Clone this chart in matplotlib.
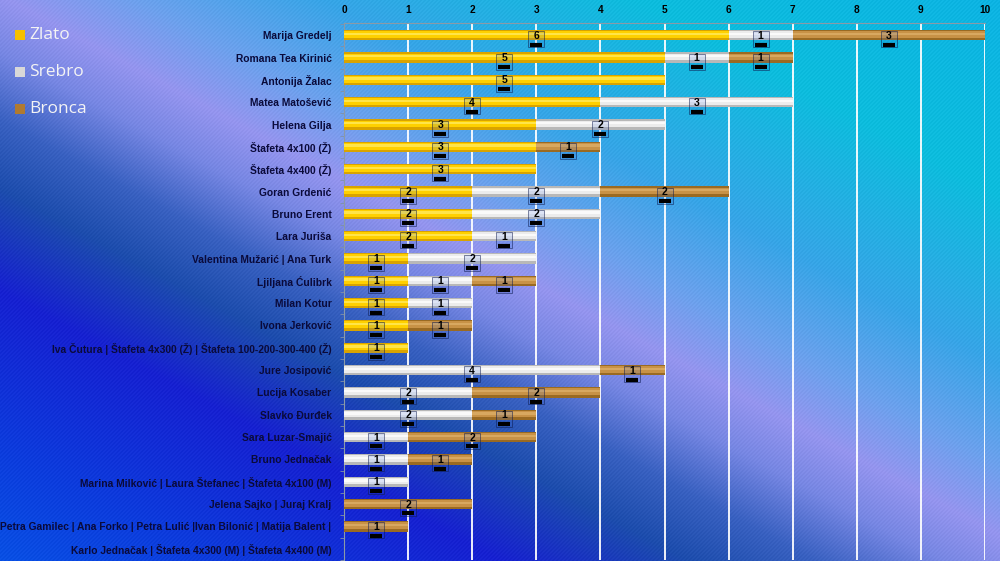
import numpy as np
import matplotlib
matplotlib.use("Agg")
import matplotlib.pyplot as plt
from matplotlib.colors import to_rgb
from matplotlib.patches import Rectangle

names = [
    "Marija Gredelj", "Romana Tea Kirinić", "Antonija Žalac", "Matea Matošević",
    "Helena Gilja", "Štafeta 4x100 (Ž)", "Štafeta 4x400 (Ž)", "Goran Grdenić",
    "Bruno Erent", "Lara Juriša", "Valentina Mužarić | Ana Turk", "Ljiljana Ćulibrk",
    "Milan Kotur", "Ivona Jerković",
    "Iva Čutura | Štafeta 4x300 (Ž) | Štafeta 100-200-300-400 (Ž)",
    "Jure Josipović", "Lucija Kosaber", "Slavko Đurđek", "Sara Luzar-Smajić",
    "Bruno Jednačak", "Marina Milković | Laura Štefanec | Štafeta 4x100 (M)",
    "Jelena Sajko | Juraj Kralj",
    "Petra Gamilec | Ana Forko | Petra Lulić |Ivan Bilonić | Matija Balent |",
    "Karlo Jednačak | Štafeta 4x300 (M) | Štafeta 4x400 (M)",
]
zlato  = [6, 5, 5, 4, 3, 3, 3, 2, 2, 2, 1, 1, 1, 1, 1, 0, 0, 0, 0, 0, 0, 0, 0, 0]
srebro = [1, 1, 0, 3, 2, 0, 0, 2, 2, 1, 2, 1, 1, 0, 0, 4, 2, 2, 1, 1, 1, 0, 0, 0]
bronca = [3, 1, 0, 0, 0, 1, 0, 2, 0, 0, 0, 1, 0, 1, 0, 1, 2, 1, 2, 1, 0, 2, 1, 0]
series = ["Zlato", "Srebro", "Bronca"]
xticks = list(range(0, 11))

W, H = 1000, 561
fig = plt.figure(figsize=(W / 100, H / 100), dpi=100)

# ---- background gradient ----
bg = fig.add_axes([0, 0, 1, 1])
bg.set_axis_off()
yy, xx = np.mgrid[0:H, 0:W].astype(float)
slope = 0.54
d = (yy - (-5 + slope * xx)) / np.sqrt(1 + slope ** 2)
stops_d = [-520, -300, -150, -60, 0, 50, 110, 170, 260, 400, 560]
stops_c = ["#10b4e8", "#10c0e0", "#3aa8ea", "#70a4f0", "#9898f2", "#7a8ae6",
           "#3c64c4", "#2050b0", "#1a24d4", "#1040e0", "#0a60ec"]
cols = np.array([to_rgb(c) for c in stops_c])
img = np.zeros((H, W, 3))
for k in range(3):
    img[..., k] = np.interp(d, stops_d, cols[:, k])
tex = ((xx + yy) % 4 < 1.5) * 0.025
img = np.clip(img - tex[..., None], 0, 1)
bg.imshow(img, extent=[0, W, H, 0], aspect="auto")
bg.set_xlim(0, W)
bg.set_ylim(H, 0)

# ---- main axes ----
ax = fig.add_axes([0.344, 0.002, 0.641, 0.957])
ax.set_facecolor("none")
n = len(names)
y = np.arange(n)

base_cols = {"Zlato": "#d9a300", "Srebro": "#b8b8b8", "Bronca": "#9a6a22"}
mid_cols = {"Zlato": "#ffd000", "Srebro": "#ececec", "Bronca": "#c89246"}
hi_cols = {"Zlato": "#ffe44a", "Srebro": "#fafafa", "Bronca": "#d8a860"}
leg_cols = {"Zlato": "#f5c000", "Srebro": "#d8d8d8", "Bronca": "#b07a30"}

left = np.zeros(n)
for s, vals in zip(series, [zlato, srebro, bronca]):
    vals = np.array(vals, dtype=float)
    ax.barh(y, vals, left=left, height=0.46, color=base_cols[s], zorder=3)
    ax.barh(y - 0.03, vals, left=left, height=0.30, color=mid_cols[s], zorder=3)
    ax.barh(y - 0.06, vals, left=left, height=0.10, color=hi_cols[s], zorder=3)
    for i in range(n):
        if vals[i] > 0:
            cx = left[i] + vals[i] / 2
            ax.plot([cx], [y[i] + 0.18], marker="s", markersize=11.5,
                    markerfacecolor=(0.2, 0.4, 0.85, 0.15),
                    markeredgecolor=(0.05, 0.1, 0.3, 0.6),
                    markeredgewidth=0.6, zorder=4)
            ax.plot([cx], [y[i] + 0.42], marker="_", markersize=9,
                    markeredgewidth=3.0, color="black", zorder=5)
            ax.text(cx, y[i] + 0.02, f"{int(vals[i])}", ha="center", va="center",
                    fontsize=7.5, fontweight="bold", color="black",
                    family="Liberation Sans", zorder=6)
    left += vals

ax.set_xlim(0, 10)
ax.set_ylim(n - 0.5, -0.55)
ax.set_xticks(xticks)
ax.xaxis.tick_top()
ax.tick_params(axis="x", length=0, pad=6, labelsize=7.3, labelcolor="black")
for lab in ax.get_xticklabels():
    lab.set_fontweight("bold")
    lab.set_family("Liberation Sans")
ax.set_yticks(y)
ax.set_yticklabels(names)
ax.tick_params(axis="y", length=0, pad=9, labelsize=7.4, labelcolor="#0a0a3a")
for lab in ax.get_yticklabels():
    lab.set_fontweight("bold")
    lab.set_family("Liberation Sans")
ax.set_yticks(np.arange(n + 1) - 0.5, minor=True)
ax.tick_params(axis="y", which="minor", length=3, color="#8090a8", direction="out")
ax.grid(axis="x", color="white", linewidth=1.3, zorder=1)
ax.set_axisbelow(True)
for sp in ["right", "bottom"]:
    ax.spines[sp].set_visible(False)
ax.spines["top"].set_color("#8a9aa8")
ax.spines["left"].set_color("#8a9aa8")

# ---- legend ----
leg_y = [35, 72, 109]
for s, ly in zip(series, leg_y):
    fig.patches.append(Rectangle((15 / W, 1 - (ly + 5) / H), 10 / W, 10 / H,
                                 transform=fig.transFigure, facecolor=leg_cols[s],
                                 edgecolor="none", zorder=5))
    fig.text(29 / W, 1 - ly / H, s, color="#f4f4f4", fontsize=12.5,
             va="center", ha="left", family="Open Sans")

fig.savefig("out.png", dpi=100)
